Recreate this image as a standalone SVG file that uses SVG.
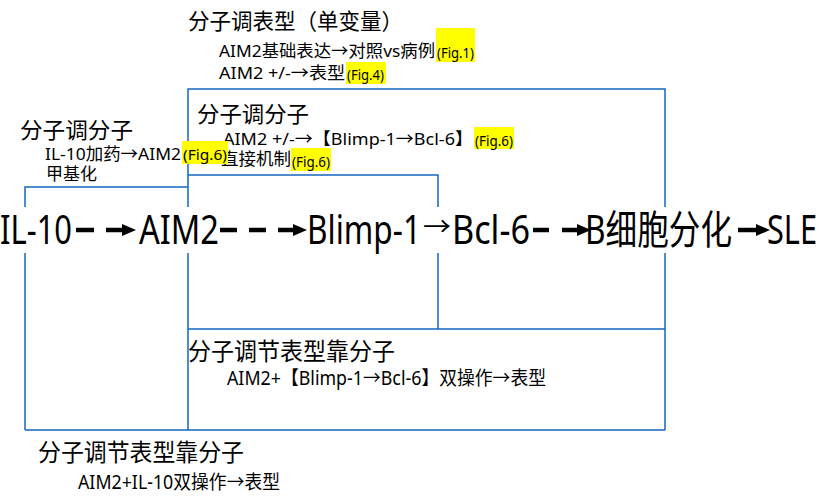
<svg xmlns="http://www.w3.org/2000/svg" width="821" height="496" viewBox="0 0 821 496">
<style>
text{font-family:'Noto Sans','Noto Sans CJK SC',sans-serif;fill:#000}
.frame{fill:none;stroke:#1565C0;stroke-width:1.5}
.h1{font-size:22px}
.h2{font-size:24px}
.s{font-size:17px}
.s2{font-size:19px}
.main{font-size:40px}
.fig{font-size:13.5px}
.hl{fill:#FFFF00}
.conn{stroke:#000;stroke-width:4.5;fill:none}
</style>
<defs>
<marker id="ah" markerUnits="userSpaceOnUse" markerWidth="16" markerHeight="14" refX="0" refY="6" orient="auto">
<path d="M0,0 L14,6 L0,12 z" fill="#000"/>
</marker>
</defs>
<rect width="821" height="496" fill="#fff"/>
<g id="frames">
<path class="frame" d="M188,430 V89 H665 V430"/>
<path class="frame" d="M25,430 V187 H188"/>
<path class="frame" d="M25,430 H665"/>
<path class="frame" d="M188,175 H438 V329"/>
<path class="frame" d="M188,329 H665"/>
</g>
<rect x="0" y="207" width="821" height="46" fill="#fff"/>
<g id="n-top">
<text class="h1" x="188" y="29" textLength="215" lengthAdjust="spacingAndGlyphs">分子调表型（单变量）</text>
<text class="s" x="219" y="57" textLength="216" lengthAdjust="spacingAndGlyphs">AIM2基础表达→对照vs病例</text>
<rect class="hl" x="436" y="28" width="39" height="34"/>
<text class="fig" x="437" y="58" textLength="37" lengthAdjust="spacingAndGlyphs">(Fig.1)</text>
<text class="s" x="219" y="79" textLength="126" lengthAdjust="spacingAndGlyphs">AIM2 +/-→表型</text>
<rect class="hl" x="346" y="62" width="40" height="22"/>
<text class="fig" x="347" y="80" textLength="37" lengthAdjust="spacingAndGlyphs">(Fig.4)</text>
</g>
<g id="n-inner">
<text class="h1" x="197" y="122" textLength="112" lengthAdjust="spacingAndGlyphs">分子调分子</text>
<text class="s" x="223" y="145" textLength="250" lengthAdjust="spacingAndGlyphs">AIM2 +/-→【Blimp-1→Bcl-6】</text>
<rect class="hl" x="474" y="127" width="40" height="22"/>
<text class="fig" x="475" y="146" textLength="38" lengthAdjust="spacingAndGlyphs">(Fig.6)</text>
<text class="s" x="221" y="165" textLength="70" lengthAdjust="spacingAndGlyphs">直接机制</text>
<rect class="hl" x="291" y="148" width="40" height="23"/>
<text class="fig" x="292" y="167" textLength="38" lengthAdjust="spacingAndGlyphs">(Fig.6)</text>
</g>
<g id="n-left">
<text class="h1" x="20" y="138" textLength="113" lengthAdjust="spacingAndGlyphs">分子调分子</text>
<text class="s" x="45" y="160" textLength="136" lengthAdjust="spacingAndGlyphs">IL-10加药→AIM2</text>
<rect class="hl" x="182" y="141" width="46" height="23"/>
<text class="fig" x="183" y="160" style="font-size:15px" textLength="44" lengthAdjust="spacingAndGlyphs">(Fig.6)</text>
<text class="s" x="46" y="180" textLength="51" lengthAdjust="spacingAndGlyphs">甲基化</text>
</g>
<g id="n-dual1">
<text class="h2" x="188" y="360" textLength="207" lengthAdjust="spacingAndGlyphs">分子调节表型靠分子</text>
<text class="s2" x="227" y="385" textLength="319" lengthAdjust="spacingAndGlyphs">AIM2+【Blimp-1→Bcl-6】双操作→表型</text>
</g>
<g id="n-dual2">
<text class="h2" x="38" y="461" textLength="206" lengthAdjust="spacingAndGlyphs">分子调节表型靠分子</text>
<text class="s2" x="78" y="489" textLength="202" lengthAdjust="spacingAndGlyphs">AIM2+IL-10双操作→表型</text>
</g>
<g id="n-il10"><text class="main" x="0" y="244" textLength="72" lengthAdjust="spacingAndGlyphs">IL-10</text></g>
<g id="n-aim2"><text class="main" x="139" y="244" textLength="80" lengthAdjust="spacingAndGlyphs">AIM2</text></g>
<g id="n-blimp"><text class="main" x="307" y="244" textLength="114" lengthAdjust="spacingAndGlyphs">Blimp-1</text></g>
<g id="n-arrow"><text x="423" y="236" style="font-size:26px" textLength="28" lengthAdjust="spacingAndGlyphs">→</text></g>
<g id="n-bcl6"><text class="main" x="452" y="244" textLength="78" lengthAdjust="spacingAndGlyphs">Bcl-6</text></g>
<g id="n-bdiff"><text class="main" x="585" y="244" textLength="147" lengthAdjust="spacingAndGlyphs">B细胞分化</text></g>
<g id="n-sle"><text class="main" x="767" y="244" textLength="50" lengthAdjust="spacingAndGlyphs">SLE</text></g>
<g id="connectors">
<path class="conn" d="M76,230 H122" stroke-dasharray="18 12" marker-end="url(#ah)"/>
<path class="conn" d="M220,230 H293" stroke-dasharray="17 12" marker-end="url(#ah)"/>
<path class="conn" d="M533,230 H577" stroke-dasharray="16 13" marker-end="url(#ah)"/>
<path class="conn" d="M738,230 H756" marker-end="url(#ah)"/>
</g>
</svg>
